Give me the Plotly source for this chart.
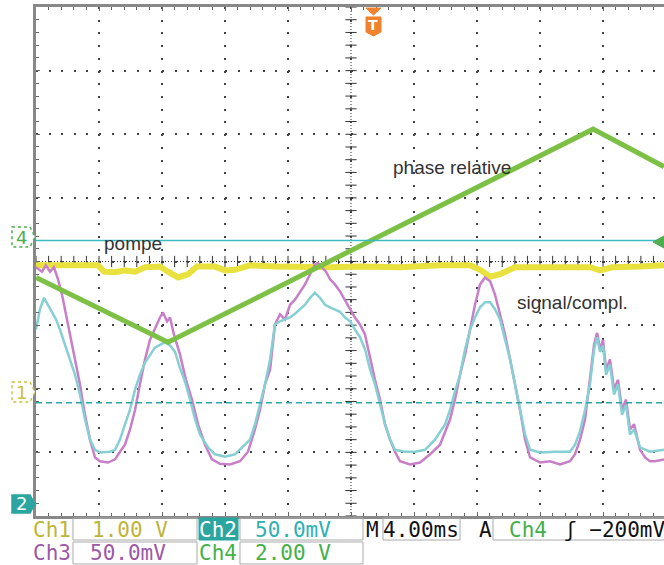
import plotly.graph_objects as go

# time in ms (4 ms/div, trigger centre = 0), amplitude in screen divisions
pompe_t = [-20.0, -18.48, -16.06, -15.68, -14.98, -14.35, -13.71, -13.08, -12.13, -11.62,
           -10.98, -10.35, -9.78, -8.63, -8.0, -7.37, -6.41, -4.83, -3.24, -1.33, 0.57,
           3.11, 5.65, 7.56, 8.19, 8.83, 9.46, 10.41, 12.0, 13.9, 15.17, 15.81, 16.57,
           18.35, 19.87]
pompe_y = [-0.06, -0.06, -0.06, -0.16, -0.17, -0.14, -0.16, -0.09, -0.08, -0.16,
           -0.25, -0.2, -0.08, -0.08, -0.14, -0.13, -0.06, -0.08, -0.09, -0.09, -0.08,
           -0.09, -0.06, -0.06, -0.13, -0.24, -0.2, -0.09, -0.09, -0.09, -0.09, -0.14,
           -0.09, -0.08, -0.06]

phase_t = [-20.0, -11.62, 15.37, 19.87]
phase_y = [-0.25, -1.27, 2.08, 1.49]

ch3_t = [-20.0, -19.62, -19.37, -19.11, -18.86, -18.6, -18.35, -18.1, -17.84, -17.52,
         -17.21, -16.89, -16.57, -16.25, -15.94, -15.43, -14.98, -14.67, -14.35, -14.03,
         -13.71, -13.4, -13.08, -12.76, -12.44, -12.13, -11.94, -11.68, -11.49, -11.24,
         -10.86, -10.48, -10.1, -9.71, -9.27, -8.83, -8.32, -7.68, -7.05, -6.54,
         -6.1, -5.78, -5.46, -5.14, -4.83, -4.51, -4.19, -3.87, -3.56, -3.24,
         -2.92, -2.6, -2.29, -2.1, -1.84, -1.59, -1.33, -1.02, -0.7, -0.38,
         -0.06, 0.25, 0.57, 0.89, 1.21, 1.52, 1.84, 2.16, 2.48, 2.79,
         3.11, 3.75, 4.38, 5.02, 5.65, 6.29, 6.6, 6.92, 7.24, 7.56,
         7.87, 8.19, 8.51, 8.83, 9.14, 9.46, 9.78, 10.1, 10.41, 10.73,
         11.05, 11.37, 12.0, 12.63, 13.27, 13.9, 14.22, 14.54, 14.86, 15.17,
         15.43, 15.62, 15.81, 16.0, 16.19, 16.44, 16.7, 16.95, 17.21, 17.46,
         17.71, 17.97, 18.35, 18.67, 18.98, 19.3, 19.87]
ch3_y = [-0.09, -0.16, -0.06, -0.16, -0.09, -0.28, -0.52, -0.83, -1.15, -1.54,
         -1.93, -2.41, -2.8, -3.08, -3.14, -3.16, -3.11, -2.99, -2.88, -2.64,
         -2.33, -1.93, -1.54, -1.23, -1.04, -0.88, -0.8, -0.94, -0.88, -1.15,
         -1.46, -1.86, -2.17, -2.56, -2.88, -3.11, -3.18, -3.19, -3.14, -2.99,
         -2.64, -2.33, -1.93, -1.7, -0.99, -0.83, -0.91, -0.68, -0.6, -0.47,
         -0.36, -0.2, -0.05, -0.02, -0.09, -0.16, -0.28, -0.36, -0.47, -0.6,
         -0.75, -0.88, -0.99, -1.15, -1.54, -1.86, -2.17, -2.56, -2.8, -2.99,
         -3.14, -3.19, -3.16, -3.03, -2.88, -2.48, -2.17, -1.78, -1.46, -1.07,
         -0.68, -0.36, -0.25, -0.31, -0.52, -0.83, -1.15, -1.54, -1.93, -2.33,
         -2.8, -3.08, -3.16, -3.14, -3.19, -3.14, -3.03, -2.8, -2.48, -1.86,
         -1.31, -1.12, -1.38, -1.23, -1.7, -1.54, -2.01, -1.86, -2.33, -2.17,
         -2.64, -2.56, -2.96, -3.08, -3.14, -3.14, -3.11]

ch2_t = [-20.0, -19.75, -19.49, -19.24, -18.98, -18.73, -18.48, -18.16, -17.84, -17.52,
         -17.21, -16.89, -16.57, -16.25, -15.94, -15.3, -14.98, -14.67, -14.35, -14.03,
         -13.71, -13.4, -13.08, -12.76, -12.44, -12.13, -11.81, -11.49, -11.17, -10.86,
         -10.54, -10.22, -9.9, -9.59, -9.08, -8.63, -8.0, -7.37, -6.73, -6.41,
         -6.1, -5.78, -5.46, -5.14, -4.83, -4.51, -4.19, -3.87, -3.56, -3.24,
         -2.92, -2.6, -2.29, -1.97, -1.65, -1.33, -1.02, -0.7, -0.38, -0.06,
         0.25, 0.57, 0.89, 1.21, 1.52, 1.84, 2.16, 2.48, 2.79, 3.43,
         4.06, 4.7, 5.33, 5.97, 6.29, 6.6, 6.92, 7.24, 7.56, 7.87,
         8.19, 8.51, 8.83, 9.14, 9.46, 9.78, 10.1, 10.41, 10.73, 11.05,
         11.37, 12.0, 12.95, 13.9, 14.22, 14.54, 14.86, 15.17, 15.43, 15.62,
         15.81, 16.0, 16.19, 16.44, 16.7, 16.95, 17.21, 17.46, 17.71, 17.97,
         18.35, 18.98, 19.87]
ch2_y = [-1.07, -0.75, -0.57, -0.68, -0.79, -0.91, -1.07, -1.31, -1.54, -1.78,
         -2.09, -2.48, -2.8, -2.96, -3.0, -2.99, -2.96, -2.8, -2.56, -2.33,
         -2.01, -1.78, -1.59, -1.46, -1.35, -1.31, -1.27, -1.32, -1.42, -1.67,
         -1.89, -2.17, -2.48, -2.72, -2.92, -3.03, -3.07, -3.03, -2.88, -2.8,
         -2.56, -2.25, -1.93, -1.54, -0.99, -0.94, -0.91, -0.88, -0.82, -0.75,
         -0.68, -0.57, -0.49, -0.57, -0.68, -0.72, -0.75, -0.79, -0.88, -0.94,
         -1.07, -1.19, -1.38, -1.7, -1.93, -2.25, -2.56, -2.8, -2.96, -2.99,
         -2.99, -2.96, -2.8, -2.56, -2.33, -2.04, -1.78, -1.38, -1.07, -0.88,
         -0.72, -0.64, -0.64, -0.75, -0.91, -1.23, -1.54, -1.93, -2.33, -2.72,
         -2.96, -3.0, -2.99, -2.99, -2.88, -2.67, -2.33, -1.93, -1.38, -1.19,
         -1.42, -1.32, -1.78, -1.62, -2.09, -1.93, -2.41, -2.25, -2.72, -2.64,
         -2.92, -2.99, -2.96]

ch4_level = 0.33      # solid cyan line
ch2_cursor = -2.22    # dashed cyan line

X_RANGE = [-20, 19.87]
Y_RANGE = [-4, 4]

fig = go.Figure()

# dense centre graticule with cross ticks
fig.add_shape(type="line", xref="x", yref="paper", x0=0, x1=0, y0=0, y1=1,
              line=dict(color="#333", width=1, dash="1px,2px"), layer="below")
fig.add_shape(type="line", xref="paper", yref="y", x0=0, x1=1, y0=0, y1=0,
              line=dict(color="#333", width=1, dash="1px,2px"), layer="below")
vt = [i * 0.2 - 4 for i in range(41)]
ht = [i * 0.8 - 20 for i in range(50)]
fig.add_trace(go.Scatter(x=[0] * len(vt), y=vt, mode="markers", hoverinfo="skip",
                         marker=dict(symbol="line-ew", size=8, line=dict(color="#333", width=1))))
fig.add_trace(go.Scatter(x=ht, y=[0] * len(ht), mode="markers", hoverinfo="skip",
                         marker=dict(symbol="line-ns", size=8, line=dict(color="#333", width=1))))

fig.add_hline(y=ch4_level, line=dict(color="#3cbcc0", width=1.5))
fig.add_hline(y=ch2_cursor, line=dict(color="#2aa7a8", width=1.5, dash="6px,4px"))

fig.add_trace(go.Scatter(x=pompe_t, y=pompe_y, mode="lines", hoverinfo="skip",
                         line=dict(color="#e9e23e", width=6)))
fig.add_trace(go.Scatter(x=ch3_t, y=ch3_y, mode="lines", hoverinfo="skip",
                         line=dict(color="#c77fc8", width=2.5)))
fig.add_trace(go.Scatter(x=ch2_t, y=ch2_y, mode="lines", hoverinfo="skip",
                         line=dict(color="#86d0d3", width=2.5)))
fig.add_trace(go.Scatter(x=phase_t, y=phase_y, mode="lines", hoverinfo="skip",
                         line=dict(color="#7cc146", width=5)))

label_font = dict(family="Liberation Sans", size=19, color="#333")
fig.add_annotation(x=6.41, y=1.48, text="phase relative", showarrow=False, font=label_font)
fig.add_annotation(x=-13.84, y=0.28, text="pompe", showarrow=False, font=label_font)
fig.add_annotation(x=14.03, y=-0.64, text="signal/compl.", showarrow=False, font=label_font)

# channel markers on the left edge
def ch_marker(ytop, ybot, ymid, outline, fill, txt, txtcol):
    path = (f"M -0.0382,{ytop} L -0.0096,{ytop} L -0.0016,{ymid} "
            f"L -0.0096,{ybot} L -0.0382,{ybot} Z")
    fig.add_shape(type="path", xref="paper", yref="paper", path=path,
                  line=dict(color=outline, width=1.5, dash="dot" if fill == "white" else "solid"),
                  fillcolor=fill)
    fig.add_annotation(xref="paper", yref="paper", x=-0.023, y=ymid, text=txt, showarrow=False,
                       xanchor="center", yanchor="middle",
                       font=dict(family="DejaVu Sans", size=18, color=txtcol))

ch_marker(0.5678, 0.5285, 0.5481, "#4fae4f", "white", "4", "#4fae4f")
ch_marker(0.2633, 0.2240, 0.2436, "#c9c046", "white", "1", "#c9c046")
ch_marker(0.0413, 0.0059, 0.0236, "#2aa5a0", "#2aa5a0", "2", "white")

# trigger level arrow on the right
fig.add_shape(type="path", xref="paper", yref="paper",
              path="M 0.9825,0.5383 L 1.0,0.5501 L 1.0,0.5265 Z",
              line=dict(color="#4fae4f", width=1), fillcolor="#4fae4f")

# trigger position marker
fig.add_shape(type="path", xref="paper", yref="paper",
              path="M 0.5255,0.998 L 0.5494,0.998 L 0.5374,0.9843 Z",
              line=dict(color="#f0822e", width=1), fillcolor="#f0822e")
fig.add_shape(type="path", xref="paper", yref="paper",
              path="M 0.5255,0.9804 L 0.5494,0.9804 L 0.5494,0.9509 L 0.5374,0.943 L 0.5255,0.9509 Z",
              line=dict(color="#f0822e", width=1), fillcolor="#f0822e")
fig.add_annotation(xref="paper", yref="paper", x=0.5374, y=0.964, text="<b>T</b>", showarrow=False,
                   xanchor="center", yanchor="middle",
                   font=dict(family="DejaVu Sans", size=14, color="white"))

# readout boxes along the bottom
r1 = (-0.0039, -0.0472)
r2 = (-0.0511, -0.0943)
boxes = [(0.0589, 0.2564, r1), (0.3248, 0.5207, r1), (0.0589, 0.2564, r2),
         (0.3248, 0.5207, r2), (0.5525, 0.6752, r1), (0.7277, 1.05, r1)]
for x0, x1, (y0, y1) in boxes:
    fig.add_shape(type="rect", xref="paper", yref="paper", x0=x0, x1=x1, y0=y0, y1=y1,
                  line=dict(color="#aaa", width=1))
fig.add_shape(type="rect", xref="paper", yref="paper", x0=0.2596, x1=0.3217, y0=r1[0], y1=r1[1],
              line=dict(color="#2aa5a0", width=1), fillcolor="#2aa5a0")

mono = "DejaVu Sans Mono"
readouts = [
    ("Ch1", 0.0255, -0.0275, "#bdb53a", "center"),
    ("1.00 V", 0.1497, -0.0275, "#bdb53a", "center"),
    ("Ch2", 0.2898, -0.0275, "white", "center"),
    ("50.0mV", 0.4092, -0.0275, "#2fb0b5", "center"),
    ("M", 0.5366, -0.0275, "#111", "center"),
    ("4.00ms", 0.6131, -0.0275, "#111", "center"),
    ("A", 0.715, -0.0275, "#111", "center"),
    ("Ch4", 0.7834, -0.0275, "#44b04a", "center"),
    ("ʃ −200mV", 0.8376, -0.0275, "#111", "left"),
    ("Ch3", 0.0255, -0.0727, "#9c58a8", "center"),
    ("50.0mV", 0.1465, -0.0727, "#9c58a8", "center"),
    ("Ch4", 0.2898, -0.0727, "#44b04a", "center"),
    ("2.00 V", 0.4092, -0.0727, "#44b04a", "center"),
]
for txt, x, y, col, anchor in readouts:
    fig.add_annotation(xref="paper", yref="paper", x=x, y=y, text=txt, showarrow=False,
                       xanchor=anchor, yanchor="middle",
                       font=dict(family=mono, size=21, color=col))

fig.update_layout(
    width=664, height=565,
    margin=dict(l=36, r=0, t=7, b=49, autoexpand=False),
    paper_bgcolor="white", plot_bgcolor="white",
    showlegend=False,
    xaxis=dict(range=X_RANGE, dtick=4, tick0=-20, showgrid=True, gridcolor="#444", gridwidth=2,
               griddash="2px,10.72px", zeroline=False, showticklabels=False,
               showline=True, linecolor="#888", linewidth=3, mirror="ticks",
               ticks="inside", ticklen=4, tickcolor="#666",
               minor=dict(dtick=0.8, ticks="inside", ticklen=3, tickcolor="#666")),
    yaxis=dict(range=Y_RANGE, dtick=1, showgrid=True, gridcolor="#444", gridwidth=2,
               griddash="2px,10.6px", zeroline=False, showticklabels=False,
               showline=True, linecolor="#888", linewidth=3,
               ticks="inside", ticklen=4, tickcolor="#666",
               minor=dict(dtick=0.2, ticks="inside", ticklen=3, tickcolor="#666")),
)

# page body margin would push the 664x565 figure out of the window
fig.write_html("out.html", config={"displayModeBar": False},
               post_script="document.body.style.margin='0px';")
